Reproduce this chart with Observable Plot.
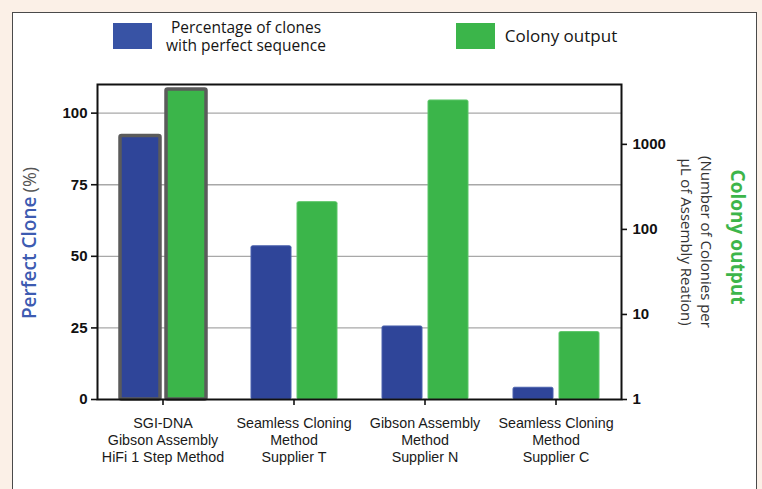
<!DOCTYPE html>
<html><head><meta charset="utf-8">
<script src="https://cdn.jsdelivr.net/npm/d3@7"></script>
<script src="https://cdn.jsdelivr.net/npm/@observablehq/plot@0.6"></script>
<style>
html,body{margin:0;padding:0;}
body{width:762px;height:489px;overflow:hidden;background:#fbf0e7;position:relative;font-family:"Open Sans",sans-serif;}
#panel{position:absolute;left:12px;top:12px;width:745px;height:500px;background:#fff;border:1.5px solid #4a4a4a;box-sizing:border-box;}
#chart{position:absolute;left:0;top:72px;}
.sw{position:absolute;width:39px;height:26px;}
.lg{position:absolute;color:#151515;line-height:18px;text-align:center;white-space:pre;transform:translate(-50%,-50%);}
.rot{position:absolute;white-space:nowrap;text-align:center;}
#chart g[aria-label="y-axis tick label"] text{font-weight:bold;font-family:"Liberation Sans",Arial,sans-serif;}
#chart g[aria-label="x-axis tick label"] text{font-family:"Liberation Sans",Arial,sans-serif;}
</style></head>
<body>
<div id="panel"></div>
<div id="legend"></div>
<div id="chart"></div>
<div class="rot" id="ltitle" style="left:29px;top:243px;transform:translate(-50%,-50%) rotate(-90deg);"></div>
<div class="rot" id="rtitle" style="left:738px;top:237px;transform:translate(-50%,-50%) rotate(90deg);color:#3db54a;font-weight:700;font-size:19px;"></div>
<div class="rot" id="rsub" style="left:697px;top:242px;transform:translate(-50%,-50%) rotate(90deg);color:#333;font-size:15px;line-height:20px;white-space:pre;"></div>
<script>
// ---- data ----
const categories = [
  "SGI-DNA\nGibson Assembly\nHiFi 1 Step Method",
  "Seamless Cloning\nMethod\nSupplier T",
  "Gibson Assembly\nMethod\nSupplier N",
  "Seamless Cloning\nMethod\nSupplier C"
];
const seriesNames = ["Percentage of clones\nwith perfect sequence", "Colony output"];
const perfectClone = [92, 53.5, 25.5, 4.1];        // %
const colonyOutput = [4400, 209, 3280, 6.2];      // colonies per µL (log axis)
const highlighted = [true, false, false, false];
const leftTicks = [0, 25, 50, 75, 100];
const rightTicks = [1, 10, 100, 1000];
const leftTitle = ["Perfect Clone", "(%)"];
const rightTitle = "Colony output";
const rightSub = "(Number of Colonies per\nµL of Assembly Reation)";

// ---- styles / layout ----
const seriesColors = ["#2f4599", "#3bb54a"];
const legendSwatch = ["#3853a5", "#3bb54a"];
const legendLayout = [{sx:113, tx:246, fs:15.5}, {sx:456, tx:561, fs:17}];
const UNITS_PER_DECADE = 29.7; // left-scale units per decade of the right (log) axis
const toLeft = v => Math.log10(v) * UNITS_PER_DECADE;

// legend
const lg = document.getElementById("legend");
seriesNames.forEach((name, i) => {
  const s = document.createElement("div");
  s.className = "sw";
  s.style.left = legendLayout[i].sx + "px"; s.style.top = "23px"; s.style.background = legendSwatch[i];
  lg.appendChild(s);
  const t = document.createElement("div");
  t.className = "lg"; t.textContent = name;
  t.style.left = legendLayout[i].tx + "px"; t.style.top = "36px"; t.style.fontSize = legendLayout[i].fs + "px";
  lg.appendChild(t);
});
document.getElementById("ltitle").innerHTML =
  `<span style="color:#3d5bb1;font-weight:600;font-size:19px">${leftTitle[0]}</span> <span style="color:#555;font-size:18px">${leftTitle[1]}</span>`;
document.getElementById("rtitle").textContent = rightTitle;
document.getElementById("rsub").textContent = rightSub;

const pctRows = categories.map((c, i) => ({cat: c, y: perfectClone[i], hl: highlighted[i]}));
const colRows = categories.map((c, i) => ({cat: c, y: toLeft(colonyOutput[i]), hl: highlighted[i]}));

const blueBar = {x: "cat", y: "y", fill: seriesColors[0], insetLeft: 23, insetRight: 68, rx: 1.5};
const greenBar = {x: "cat", y: "y", fill: seriesColors[1], insetLeft: 69, insetRight: 22, rx: 1.5};

const plot = Plot.plot({
  width: 762, height: 417,
  marginLeft: 97, marginRight: 141, marginTop: 12, marginBottom: 90,
  style: {background: "transparent", fontFamily: "'Open Sans', sans-serif", color: "#111", overflow: "visible"},
  x: {type: "band", domain: categories, padding: 0, label: null},
  y: {domain: [0, 110], label: null},
  marks: [
    Plot.gridY(leftTicks.filter(d => d > 0), {stroke: "#a8a8a8", strokeOpacity: 1, strokeWidth: 1.3}),
    Plot.barY(pctRows, {...blueBar, filter: d => !d.hl, stroke: "#4a61ad", strokeWidth: 1}),
    Plot.barY(pctRows, {...blueBar, filter: d => d.hl, stroke: "#5b5b5b", strokeWidth: 3.5}),
    Plot.barY(colRows, {...greenBar, filter: d => !d.hl, stroke: "#5cc668", strokeWidth: 1}),
    Plot.barY(colRows, {...greenBar, filter: d => d.hl, stroke: "#5b5b5b", strokeWidth: 3.5}),
    Plot.frame({stroke: "#111", strokeWidth: 2}),
    Plot.axisY(leftTicks, {anchor: "left", tickSize: 6, tickPadding: 4, fontSize: 15, fontWeight: "bold", strokeWidth: 1.6, label: null}),
    Plot.axisY(rightTicks.map(toLeft), {anchor: "right", tickSize: 5, tickPadding: 6, fontSize: 15, fontWeight: "bold", strokeWidth: 1.6, label: null,
      tickFormat: d => String(Math.round(10 ** (d / UNITS_PER_DECADE)))}),
    Plot.axisX({anchor: "bottom", tickSize: 6, tickPadding: 11, fontSize: 14.3, lineHeight: 1.18, fontFamily: "'Liberation Sans', Arial, sans-serif", strokeWidth: 1.6, label: null, fill: "#1a1a1a"})
  ]
});
document.getElementById("chart").appendChild(plot);
</script>
</body></html>
